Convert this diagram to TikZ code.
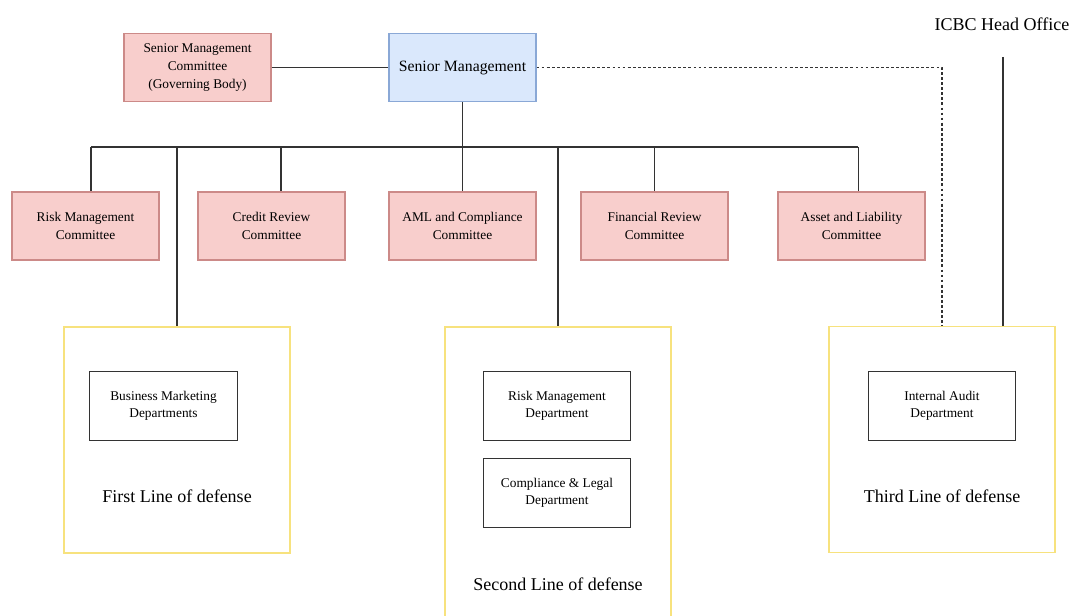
\documentclass[tikz,border=0pt]{standalone}
\usepackage{fontspec}
\setmainfont{Liberation Serif}
\usetikzlibrary{positioning, calc}
\definecolor{pinkfill}{HTML}{F8CECC}
\definecolor{pinkline}{HTML}{CC8A88}
\definecolor{bluefill}{HTML}{DAE8FC}
\definecolor{blueline}{HTML}{8AA8D6}
\definecolor{defline}{HTML}{F7E27E}
\definecolor{linkgray}{HTML}{333333}

\tikzset{
  link/.style={draw=linkgray, line width=0.9pt},
  cmtbox/.style={draw=pinkline, fill=pinkfill, line width=0.8pt, align=center,
    minimum width=3.675cm, minimum height=1.7cm, inner sep=0pt,
    font=\fontsize{9.5}{12.5}\selectfont},
  seniorbox/.style={draw=blueline, fill=bluefill, line width=0.8pt, align=center,
    minimum width=3.675cm, minimum height=1.7cm, inner sep=0pt,
    font=\fontsize{11.2}{13}\selectfont},
  deptbox/.style={draw=linkgray, fill=white, line width=0.7pt, align=center,
    minimum width=3.675cm, minimum height=1.7cm, inner sep=0pt,
    font=\fontsize{9.5}{12}\selectfont},
  linebox/.style={draw=defline, line width=1.2pt, minimum width=5.65cm,
    minimum height=5.65cm, inner sep=0pt},
  linetitle/.style={font=\fontsize{12.8}{15}\selectfont}
}

\begin{document}
\begin{tikzpicture}[x=0.025cm, y=-0.025cm]

\useasboundingbox (0,0) rectangle (1073,616);
\clip (0,0) rectangle (1073,616);

\node[seniorbox] (sm) at (462.5,67.5) {Senior Management};
\node[cmtbox] (smc) at (197.5,67.5) {Senior Management\\Committee\\(Governing Body)};

\node[cmtbox] (rmc) at (85.5,226) {Risk Management\\Committee};
\node[cmtbox] (crc) at (271.5,226) {Credit Review\\Committee};
\node[cmtbox] (aml) at (462.5,226) {AML and Compliance\\Committee};
\node[cmtbox] (frc) at (654.5,226) {Financial Review\\Committee};
\node[cmtbox] (alc) at (851.5,226) {Asset and Liability\\Committee};

\node[linebox] (first) at (177,440) {};
\node[linebox, minimum height=8cm] (second) at (558,487) {};
\node[linebox] (third) at (942,439.5) {};

\node[deptbox] (bmd) at (163.5,406) {Business Marketing\\Departments};
\node[deptbox] (rmd) at (557,406) {Risk Management\\Department};
\node[deptbox] (cld) at (557,493) {Compliance \& Legal\\Department};
\node[deptbox] (iad) at (942,406) {Internal Audit\\Department};

\node[linetitle] (firsttitle) at (177,496) {First Line of defense};
\node[linetitle] (secondtitle) at (558,584) {Second Line of defense};
\node[linetitle] (thirdtitle) at (942,496) {Third Line of defense};
\node[linetitle] (icbc) at (1002,24) {ICBC Head Office};

\coordinate (bus) at (462.5,147);
\coordinate (hq) at (1003,57);

\draw[link] (smc) -- (sm);
\draw[link] (sm) -- (bus);
\draw[link] ([xshift=0.14cm]rmc.north |- bus) -- ([xshift=0.17cm]alc.north |- bus);
\foreach \c/\dx in {rmc/0.14,crc/0.24,aml/0,frc/0,alc/0.17}
  \draw[link] ([xshift=\dx cm]\c.north |- bus) -- ([xshift=\dx cm]\c.north);
\foreach \c in {first,second}
  \draw[link] (\c.north |- bus) -- (\c.north);
\draw[link, dash pattern=on 2pt off 1.6pt] (sm) -| (third.north);
\draw[link] (hq) -- (hq |- third.north);

\end{tikzpicture}
\end{document}
